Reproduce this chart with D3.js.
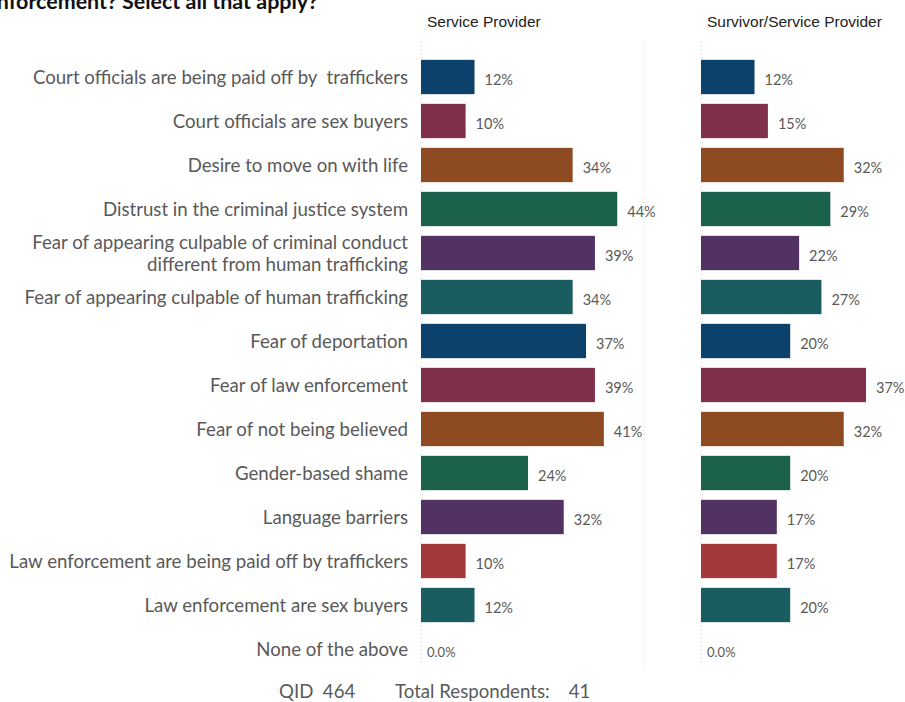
<!DOCTYPE html>
<html>
<head>
<meta charset="utf-8">
<script src="https://cdn.jsdelivr.net/npm/d3@7"></script>
<style>
  html, body { margin: 0; padding: 0; background: #ffffff; }
  svg { display: block; }
</style>
</head>
<body>
<svg id="chart" width="905" height="702"></svg>
<script>
const categories = [
  "Court officials are being paid off by  traffickers",
  "Court officials are sex buyers",
  "Desire to move on with life",
  "Distrust in the criminal justice system",
  "Fear of appearing culpable of criminal conduct|different from human trafficking",
  "Fear of appearing culpable of human trafficking",
  "Fear of deportation",
  "Fear of law enforcement",
  "Fear of not being believed",
  "Gender-based shame",
  "Language barriers",
  "Law enforcement are being paid off by traffickers",
  "Law enforcement are sex buyers",
  "None of the above"
];
const serviceProvider = [12, 10, 34, 44, 39, 34, 37, 39, 41, 24, 32, 10, 12, 0];
const survivorServiceProvider = [12, 15, 32, 29, 22, 27, 20, 37, 32, 20, 17, 17, 20, 0];
const valueLabelsSP = ["12%", "10%", "34%", "44%", "39%", "34%", "37%", "39%", "41%", "24%", "32%", "10%", "12%", "0.0%"];
const valueLabelsSSP = ["12%", "15%", "32%", "29%", "22%", "27%", "20%", "37%", "32%", "20%", "17%", "17%", "20%", "0.0%"];
const panelTitles = ["Service Provider", "Survivor/Service Provider"];
const barColors = ["#0c416b", "#80304b", "#8e4a21", "#1b614c", "#513262", "#1a5d61",
                   "#0c416b", "#80304b", "#8e4a21", "#1b614c", "#513262", "#a3393a", "#1a5d61", "#1a5d61"];

const svg = d3.select("#chart");
const labelFont = "Lato, 'Open Sans', sans-serif";

// fit label font so the longest label spans the reference width
const probe = svg.append("text")
  .attr("font-family", labelFont)
  .attr("font-size", 16)
  .text(categories[11]);
const probeW = probe.node().getComputedTextLength() || 360;
probe.remove();
const labelSize = 16 * 399 / probeW;

// title (cut off at top-left, as in the reference)
svg.append("text")
  .attr("x", 318).attr("y", 9)
  .attr("text-anchor", "end")
  .attr("font-family", labelFont)
  .attr("font-weight", "bold")
  .attr("font-size", labelSize * 1.15)
  .attr("fill", "#111")
  .text("law enforcement? Select all that apply?");

const y = d3.scaleBand()
  .domain(d3.range(categories.length))
  .range([55, 671])
  .paddingInner(0.22)
  .paddingOuter(0.11);

const panels = [
  { x0: 421, values: serviceProvider, labels: valueLabelsSP, title: panelTitles[0] },
  { x0: 701, values: survivorServiceProvider, labels: valueLabelsSSP, title: panelTitles[1] }
];

panels.forEach(p => {
  const x = d3.scaleLinear().domain([0, 50]).range([p.x0, p.x0 + 223]);
  const g = svg.append("g");

  [0, 50].forEach(v => {
    g.append("line")
      .attr("x1", x(v)).attr("x2", x(v))
      .attr("y1", 42).attr("y2", 670)
      .attr("stroke", "#d0d0d0")
      .attr("stroke-width", 1)
      .attr("stroke-dasharray", "1,3");
  });

  g.append("text")
    .attr("x", x(0) + 6).attr("y", 27)
    .attr("font-family", "'Liberation Sans Narrow', 'Liberation Sans', Arial, sans-serif")
    .attr("font-size", 15.5)
    .attr("fill", "#222")
    .text(p.title);

  g.selectAll("rect.bar")
    .data(p.values)
    .join("rect")
    .attr("class", "bar")
    .attr("x", x(0))
    .attr("y", (d, i) => y(i))
    .attr("width", d => x(d) - x(0))
    .attr("height", y.bandwidth())
    .attr("fill", (d, i) => barColors[i]);

  g.selectAll("text.val")
    .data(p.values)
    .join("text")
    .attr("class", "val")
    .attr("x", d => x(d) + (d === 0 ? 6 : 10))
    .attr("y", (d, i) => y(i) + y.bandwidth() / 2 + 8)
    .attr("font-family", labelFont)
    .attr("font-size", d => d === 0 ? 13 : 14.5)
    .attr("fill", "#595959")
    .text((d, i) => p.labels[i]);
});

// category labels
categories.forEach((c, i) => {
  const lines = c.split("|");
  const cy = y(i) + y.bandwidth() / 2;
  const t = svg.append("text")
    .attr("text-anchor", "end")
    .attr("font-family", labelFont)
    .attr("font-size", labelSize)
    .attr("fill", "#595959")
    .attr("xml:space", "preserve");
  lines.forEach((ln, k) => {
    t.append("tspan")
      .attr("x", 408)
      .attr("y", cy + 7 + (k - (lines.length - 1) / 2) * 22)
      .text(ln);
  });
});

// footer
svg.append("text")
  .attr("x", 279).attr("y", 698)
  .attr("font-family", labelFont)
  .attr("font-size", labelSize)
  .attr("fill", "#595959")
  .attr("xml:space", "preserve")
  .text("QID  464");
svg.append("text")
  .attr("x", 395).attr("y", 698)
  .attr("font-family", labelFont)
  .attr("font-size", labelSize)
  .attr("fill", "#595959")
  .attr("xml:space", "preserve")
  .text("Total Respondents:    41");
</script>
</body>
</html>
